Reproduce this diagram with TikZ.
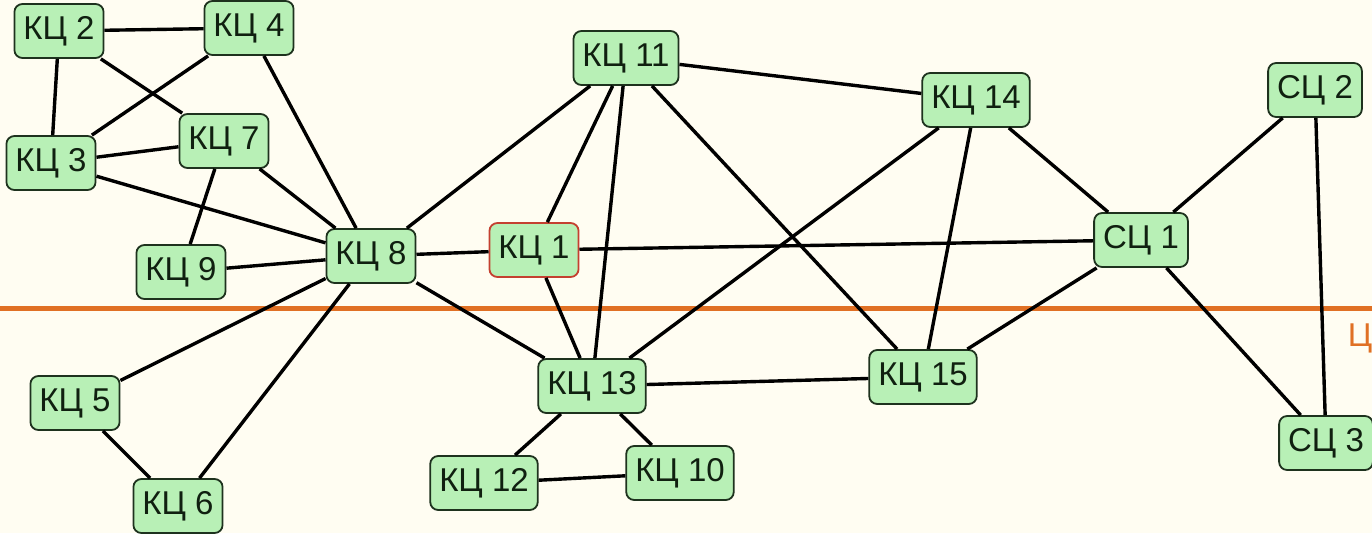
\documentclass[tikz,border=0pt]{standalone}
\usepackage{fontspec}
\setmainfont{Liberation Sans}
\usepackage{xcolor}
\usepackage{tikz}
\usetikzlibrary{positioning}

\definecolor{paper}{RGB}{255,253,242}
\definecolor{cellgreen}{RGB}{184,240,182}
\definecolor{celledge}{RGB}{30,50,30}
\definecolor{celltext}{RGB}{16,32,16}
\definecolor{mainred}{RGB}{196,64,48}
\definecolor{borderline}{RGB}{224,112,36}

\begin{document}
\begin{tikzpicture}[x=1pt, y=-1pt]
\tikzstyle{cell} = [rectangle, rounded corners=8pt, minimum height=54pt, inner xsep=9pt, text centered, draw=celledge, line width=1.8pt, fill=cellgreen, text=celltext, font=\fontsize{33}{38}\selectfont]
\tikzstyle{link} = [line width=3.4pt, draw=black]

% Canvas
\fill[paper] (0,0) rectangle (1372,533);
\useasboundingbox (0,0) rectangle (1372,533);

% Boundary line
\coordinate (bl) at (0,308);
\coordinate (br) at (1372,308);
\draw[line width=5pt, borderline] (bl) -- (br);
\node (bord) [text=borderline, font=\fontsize{33}{38}\selectfont, inner sep=0pt] at (1360,338) {Ц};

% Cells, left group
\node (k2) [cell] at (59,31) {КЦ 2};
\node (k4) [cell] at (249,28) {КЦ 4};
\node (k3) [cell] at (51,163) {КЦ 3};
\node (k7) [cell] at (224,141) {КЦ 7};
\node (k9) [cell] at (181,272) {КЦ 9};
\node (k8) [cell] at (371,256) {КЦ 8};
\node (k5) [cell] at (75,403) {КЦ 5};
\node (k6) [cell] at (178,506) {КЦ 6};

% Cells, middle group
\node (k1) [cell, draw=mainred] at (534,250) {КЦ 1};
\node (k11) [cell] at (626,58) {КЦ 11};
\node (k13) [cell] at (592,386) {КЦ 13};
\node (k12) [cell] at (484,483) {КЦ 12};
\node (k10) [cell] at (680,473) {КЦ 10};
\node (k14) [cell] at (976,100) {КЦ 14};
\node (k15) [cell] at (923,377) {КЦ 15};

% Cells, right group
\node (s1) [cell] at (1141,240) {СЦ 1};
\node (s2) [cell] at (1315,90) {СЦ 2};
\node (s3) [cell] at (1326,443) {СЦ 3};

% Links
\draw [link] (k2) -- (k4);
\draw [link] (k2) -- (k3);
\draw [link] (k2) -- (k7);
\draw [link] (k4) -- (k3);
\draw [link] (k4) -- (k8);
\draw [link] (k3) -- (k7);
\draw [link] (k3) -- (k8);
\draw [link] (k7) -- (k8);
\draw [link] (k7) -- (k9);
\draw [link] (k9) -- (k8);
\draw [link] (k8) -- (k1);
\draw [link] (k8) -- (k11);
\draw [link] (k8) -- (k13);
\draw [link] (k8) -- (k5);
\draw [link] (k8) -- (k6);
\draw [link] (k5) -- (k6);
\draw [link] (k1) -- (k11);
\draw [link] (k1) -- (k13);
\draw [link] (k1) -- (s1);
\draw [link] (k11) -- (k13);
\draw [link] (k11) -- (k14);
\draw [link] (k11) -- (k15);
\draw [link] (k14) -- (k13);
\draw [link] (k14) -- (k15);
\draw [link] (k14) -- (s1);
\draw [link] (k13) -- (k15);
\draw [link] (k13) -- (k12);
\draw [link] (k13) -- (k10);
\draw [link] (k12) -- (k10);
\draw [link] (k15) -- (s1);
\draw [link] (s1) -- (s2);
\draw [link] (s1) -- (s3);
\draw [link] (s2) -- (s3);
\end{tikzpicture}
\end{document}
